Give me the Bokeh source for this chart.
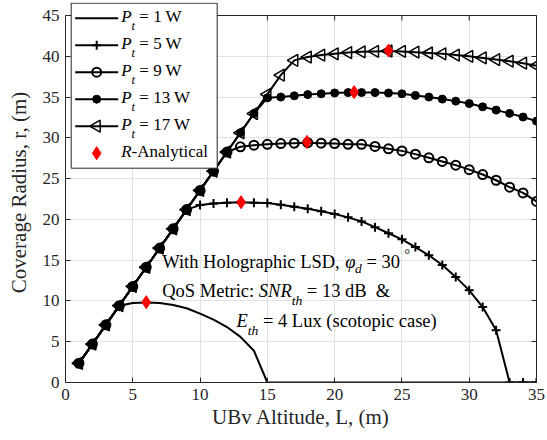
import math
from bokeh.plotting import figure
from bokeh.models import Range1d, LinearAxis, FixedTicker, Label, Grid
from bokeh.embed import file_html
from bokeh.resources import INLINE

# ---------------------------------------------------------------- data
altitude = [1, 2, 3, 4, 5, 6, 7, 8, 9, 10, 11, 12, 13, 14, 15, 16, 17, 18,
            19, 20, 21, 22, 23, 24, 25, 26, 27, 28, 29, 30, 31, 32, 33, 34, 35]

radius_p1 = [2.36, 4.71, 7.07, 9.42, 9.75, 9.82, 9.75, 9.50, 9.10, 8.45,
             7.70, 6.80, 5.60, 3.90, 0, 0, 0, 0, 0, 0, 0, 0, 0, 0, 0, 0,
             0, 0, 0, 0, 0, 0, 0, 0, 0]
radius_p5 = [2.36, 4.71, 7.07, 9.42, 11.78, 14.13, 16.49, 18.84, 21.20,
             21.75, 21.95, 22.05, 22.10, 22.05, 22.00, 21.80, 21.55, 21.30,
             21.00, 20.65, 20.25, 19.75, 19.05, 18.30, 17.55, 16.60, 15.60,
             14.40, 12.95, 11.30, 9.25, 6.40, 0, 0, 0]
radius_p9 = [2.36, 4.71, 7.07, 9.42, 11.78, 14.13, 16.49, 18.84, 21.20,
             23.55, 25.91, 28.26, 28.90, 29.10, 29.20, 29.30, 29.35, 29.40,
             29.35, 29.30, 29.20, 29.20, 28.95, 28.65, 28.40, 28.00, 27.55,
             27.10, 26.65, 26.10, 25.50, 24.80, 23.95, 23.25, 22.20]
radius_p13 = [2.36, 4.71, 7.07, 9.42, 11.78, 14.13, 16.49, 18.84, 21.20,
              23.55, 25.91, 28.26, 30.62, 32.98, 34.90, 35.00, 35.15, 35.30,
              35.40, 35.50, 35.55, 35.55, 35.55, 35.50, 35.40, 35.20, 35.00,
              34.75, 34.50, 34.20, 33.80, 33.40, 33.00, 32.55, 32.05]
radius_p17 = [2.36, 4.71, 7.07, 9.42, 11.78, 14.13, 16.49, 18.84, 21.20,
              23.55, 25.91, 28.26, 30.62, 32.98, 35.33, 37.69, 39.50, 39.90,
              40.15, 40.30, 40.45, 40.55, 40.60, 40.65, 40.60, 40.50, 40.40,
              40.30, 40.15, 40.00, 39.80, 39.60, 39.40, 39.15, 38.85]

# analytical optimum (altitude, radius) for each transmit power
analytical_alt = [6.0, 13.05, 17.95, 21.45, 24.0]
analytical_rad = [9.85, 22.10, 29.50, 35.60, 40.70]

power_labels = ["1", "5", "9", "13", "17"]
x_ticks = [0, 5, 10, 15, 20, 25, 30, 35]
y_ticks = [0, 5, 10, 15, 20, 25, 30, 35, 40, 45]

# ---------------------------------------------------------------- layout
W, H = 547, 440
FL, FR, FT, FB = 65, 536, 15, 382    # axes box edges in pixels
FRAME_T = 2                          # frame reaches a little above the box
X0, X1, Y0, Y1 = 0, 35, 0, 45
PPU_Y = (FB - FT) / (Y1 - Y0)
Y_TOP = Y1 + (FT - FRAME_T) / PPU_Y
TICK = 5
SERIF = "Liberation Serif"
INK = "#262626"
MID = 0.34          # baseline sits this many em below the text box middle


def to_x(px):
    return X0 + (px - FL) * (X1 - X0) / (FR - FL)


def to_y(py):
    return Y0 + (FB - py) / PPU_Y


p = figure(width=W, height=H, x_range=Range1d(X0, X1),
           y_range=Range1d(Y0, Y_TOP),
           output_backend="svg", toolbar_location=None,
           min_border_left=FL, min_border_right=W - FR,
           min_border_top=FRAME_T, min_border_bottom=H - FB)
p.background_fill_color = "white"
p.border_fill_color = "white"
p.outline_line_color = None

xt = FixedTicker(ticks=x_ticks, minor_ticks=[])
yt = FixedTicker(ticks=y_ticks, minor_ticks=[])


def style_axis(ax, ticker, show_labels):
    ax.ticker = ticker
    ax.axis_line_color = INK
    ax.axis_line_width = 1
    ax.major_tick_line_color = INK
    ax.major_tick_in = TICK
    ax.major_tick_out = 0
    ax.minor_tick_in = 0
    ax.minor_tick_out = 0
    ax.major_label_text_font = SERIF
    ax.major_label_text_color = INK
    if show_labels:
        ax.major_label_text_font_size = "17px"
        ax.major_label_standoff = 6
    else:
        ax.major_label_overrides = {t: "" for t in ticker.ticks}
        ax.major_label_text_font_size = "1px"
        ax.major_label_standoff = 0


style_axis(p.below[0], xt, True)
style_axis(p.left[0], yt, True)
p.left[0].bounds = (Y0, Y1)
right_axis = LinearAxis(bounds=(Y0, Y1))
style_axis(right_axis, yt, False)
p.add_layout(right_axis, "right")

for ax, title, standoff in ((p.below[0], "UBv Altitude, L, (m)", 2),
                            (p.left[0], "Coverage Radius, r, (m)", 9)):
    ax.axis_label = title
    ax.axis_label_text_font = SERIF
    ax.axis_label_text_font_size = "21px"
    ax.axis_label_text_font_style = "normal"
    ax.axis_label_text_color = INK
    ax.axis_label_standoff = standoff

p.xgrid.ticker = xt
p.ygrid.ticker = yt
for g in (p.xgrid, p.ygrid):
    g.grid_line_color = "#e1e1e1"
    g.grid_line_width = 1
p.ygrid.bounds = (Y0, Y1)
if "cross_bounds" in Grid.properties():
    p.xgrid.cross_bounds = (Y0, Y1)
else:
    # keep the strip above the box clean
    p.quad(left=[X0], right=[X1], bottom=[Y1], top=[Y_TOP],
           fill_color="white", line_color=None)

# top edge of the box with inward ticks
p.segment(x0=[X0], y0=[Y1], x1=[X1], y1=[Y1], line_color=INK, line_width=1)
p.segment(x0=x_ticks, y0=[Y1] * len(x_ticks), x1=x_ticks,
          y1=[Y1 - TICK / PPU_Y] * len(x_ticks), line_color=INK, line_width=1)

# ---------------------------------------------------------------- curves
series = [radius_p1, radius_p5, radius_p9, radius_p13, radius_p17]
markers = [
    None,
    dict(marker="cross", size=9, line_width=2, fill_color=None),
    dict(marker="circle", size=9, line_width=2, fill_color=None),
    dict(marker="circle", size=8, line_width=1, fill_color="black"),
    dict(marker="triangle", size=12, line_width=1.5, fill_color=None,
         angle=math.pi / 2),
]
diamond = dict(marker="diamond", size=13, fill_color="red", line_color="red",
               line_width=1)

for radius, mk in zip(series, markers):
    p.line(altitude, radius, line_color="black", line_width=2)
    if mk:
        p.scatter(altitude, radius, line_color="black", **mk)

p.scatter(analytical_alt, analytical_rad, **diamond)

# ---------------------------------------------------------------- legend box
PAD, ROW_H, GAP = 4, 22, 5
GLYPH_W, STANDOFF = 43, 3
BOX_L, BOX_T, BOX_R = 70.7, 2.7, 216.7
box_b = BOX_T + 2 * PAD + 6 * ROW_H + 5 * GAP
p.quad(left=[to_x(BOX_L)], right=[to_x(BOX_R)], top=[to_y(BOX_T)],
       bottom=[to_y(box_b)], fill_color="white", line_color=INK, line_width=1)

row0 = BOX_T + PAD + ROW_H / 2
row_step = ROW_H + GAP
g_left = BOX_L + PAD
glyph_cx = g_left + GLYPH_W / 2
text_x = g_left + GLYPH_W + STANDOFF

for i, mk in enumerate(markers + [diamond]):
    yy = to_y(row0 + i * row_step)
    if i < len(markers):
        p.line([to_x(g_left), to_x(g_left + GLYPH_W)], [yy, yy],
               line_color="black", line_width=2)
    if mk:
        kw = dict(mk)
        kw.setdefault("line_color", "black")
        p.scatter([to_x(glyph_cx)], [yy], **kw)

# ---------------------------------------------------------------- text helpers
REG = {' ': 250, '&': 778, '(': 333, ')': 333, ',': 250, '-': 333, '.': 250,
       ':': 278, '=': 564, '°': 400,
       'A': 722, 'B': 667, 'C': 667, 'D': 722, 'E': 611, 'H': 722, 'L': 611,
       'M': 889, 'Q': 722, 'R': 667, 'S': 556, 'U': 722, 'W': 944,
       'a': 444, 'b': 500, 'c': 444, 'd': 500, 'e': 444, 'g': 500, 'h': 500,
       'i': 278, 'l': 278, 'm': 778, 'n': 500, 'o': 500, 'p': 500, 'r': 333,
       's': 389, 't': 278, 'u': 500, 'v': 500, 'x': 500, 'y': 500}
ITA = {' ': 250, 'P': 611, 't': 278, 'R': 611, 'r': 389, 'L': 556, 'd': 500,
       'S': 500, 'N': 667, 'h': 500, 'E': 611, 'φ': 540}


def text_width(s, italic, size):
    table = ITA if italic else REG
    return sum(table.get(ch, 500) for ch in s) * size / 1000.0


def put(x_px, base_px, s, size, italic=False, color="black"):
    """Place text so that its baseline lands on base_px."""
    p.add_layout(Label(x=to_x(x_px), y=to_y(base_px - MID * size), text=s,
                       text_font=SERIF, text_font_size=f"{size}px",
                       text_font_style="italic" if italic else "normal",
                       text_color=color, text_align="left",
                       text_baseline="middle"))


def run(x, y, segs):
    """Lay out text pieces (text, size, italic, baseline shift) one after another."""
    for s, size, italic, shift in segs:
        lead = len(s) - len(s.lstrip(' '))
        off = text_width(' ' * lead, italic, size)
        body = s.strip(' ')
        if body:
            put(x + off, y + shift, body, size, italic)
        x += text_width(s, italic, size)


# ---------------------------------------------------------------- annotation
T, S = 18.5, 13.5
run(161.7, 267.3, [("With Holographic LSD, ", T, False, 0), ("φ", T, True, 0),
                   ("d", S, True, 5), (" = 30", T, False, 0)])
put(404, 259, "°", 14)
run(161.7, 296.7, [("QoS Metric: ", T, False, 0), ("SNR", T, True, 0),
                   ("th", S, True, 8), (" = 13 dB  ", T, False, 0),
                   ("&", T, False, 0)])
run(236, 326.7, [("E", T, True, 0), ("th", S, True, 8),
                 (" = 4 Lux (scotopic case)", T, False, 0)])

# ---------------------------------------------------------------- legend text
LG, LS = 17, 12.5
for i, lab in enumerate(power_labels):
    base = row0 + i * row_step + 3.6
    run(text_x, base, [("P", LG, True, 0), ("t", LS, True, 8.4),
                       (" = " + lab + " W", LG, False, 0)])
run(text_x, row0 + 5 * row_step + 3.6, [("R", LG, True, 0),
                                        ("-Analytical", LG, False, 0)])

open("out.html", "w").write(file_html(p, INLINE))
